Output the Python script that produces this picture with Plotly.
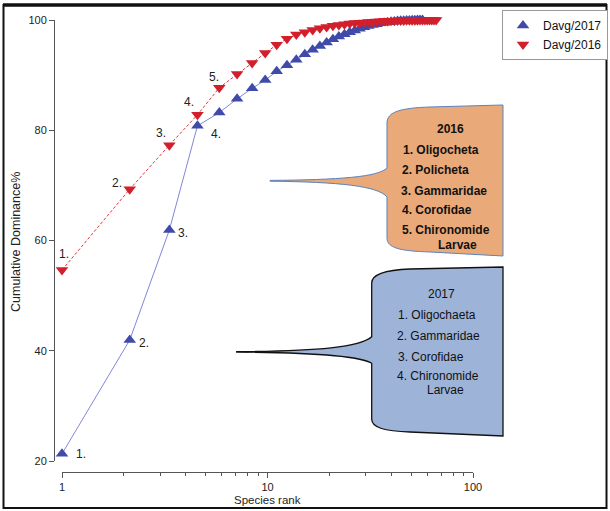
import math
import plotly.graph_objects as go

# ---------------- data ----------------
dom_2017 = [21.3, 41.95, 61.9, 80.8, 83.2, 85.7, 87.6, 89.1, 90.7, 91.8,
            92.8, 93.8, 94.6, 95.3, 95.9, 96.5, 97.0, 97.4, 97.8, 98.1,
            98.4, 98.7, 98.9, 99.1, 99.25, 99.4, 99.5, 99.6, 99.7, 99.75,
            99.8, 99.85, 99.88, 99.9, 99.92, 99.94, 99.96, 99.98, 99.99, 100.0]
dom_2016 = [54.65, 69.3, 77.3, 82.8, 87.7, 90.2, 92.2, 94.0, 95.5, 96.6,
            97.35, 97.8, 98.2, 98.5, 98.75, 98.95, 99.1, 99.25, 99.35, 99.45,
            99.5, 99.56, 99.62, 99.67, 99.72, 99.76, 99.8, 99.83, 99.86, 99.88,
            99.9, 99.92, 99.93, 99.94, 99.95, 99.96, 99.97, 99.975, 99.98, 99.985,
            99.99, 99.99, 99.995, 100.0, 100.0, 100.0]
rank_2017 = list(range(1, len(dom_2017) + 1))
rank_2016 = list(range(1, len(dom_2016) + 1))

labels_2017 = ["1.", "2.", "3.", "4."]
labels_2016 = ["1.", "2.", "3.", "4.", "5."]

box_2016 = ["<b>2016</b>", "<b>1. Oligocheta</b>", "<b>2. Policheta</b>", "<b>3. Gammaridae</b>",
            "<b>4. Corofidae</b>", "<b>5. Chironomide</b>", "<b>Larvae</b>"]
box_2017 = ["2017", "1. Oligochaeta", "2. Gammaridae", "3. Corofidae",
            "4. Chironomide", "Larvae"]

x_ticks = [1, 10, 100]
x_minor = [2, 3, 4, 5, 6, 7, 8, 9, 20, 30, 40, 50, 60, 70, 80, 90]
y_ticks = [20, 40, 60, 80, 100]

# ---------------- geometry helpers ----------------
W, H = 610, 511
ML, MR, MT, MB = 54, 10, 20, 39
PW, PH = W - ML - MR, H - MT - MB


def fx(px):
    return (px - ML) / PW


def fy(py):
    return (H - MB - py) / PH


def path(cmds):
    out = []
    for c, pts in cmds:
        if c == "Z":
            out.append("Z")
            continue
        out.append(c + " " + " ".join(f"{fx(x):.5f},{fy(y):.5f}" for x, y in pts))
    return " ".join(out)


FONT = "Arial, Liberation Sans, sans-serif"
BLUE_M = "#3f4aa9"
BLUE_L = "#8286d9"
RED_M = "#d21f2b"
RED_L = "#e0353d"

fig = go.Figure()

# lines (no legend)
fig.add_trace(go.Scatter(x=rank_2017, y=dom_2017, mode="lines",
                         line=dict(color=BLUE_L, width=1), showlegend=False,
                         hoverinfo="skip", cliponaxis=False))
fig.add_trace(go.Scatter(x=rank_2016, y=dom_2016, mode="lines",
                         line=dict(color=RED_L, width=1, dash="3px,2px"), showlegend=False,
                         hoverinfo="skip", cliponaxis=False))
# markers
fig.add_trace(go.Scatter(x=rank_2017, y=dom_2017, mode="markers", name="Davg/2017",
                         marker=dict(symbol="triangle-up", size=11, color=BLUE_M),
                         cliponaxis=False))
fig.add_trace(go.Scatter(x=rank_2016, y=dom_2016, mode="markers", name="Davg/2016",
                         marker=dict(symbol="triangle-down", size=11, color=RED_M),
                         cliponaxis=False))
# empty trace so the tick axis (x2) gets its own subplot and is drawn
fig.add_trace(go.Scatter(x=[], y=[], xaxis="x2", yaxis="y", showlegend=False,
                         hoverinfo="skip"))

annotations = []
# point labels
shift_2017 = [(19, 0), (14, -3), (14, -3), (19, -8)]
shift_2016 = [(2, 16), (-13, 6), (-8, 12), (-8, 13), (-5, 11)]
for i, t in enumerate(labels_2017):
    dx, dy = shift_2017[i]
    annotations.append(dict(x=math.log10(rank_2017[i]), y=dom_2017[i], xref="x", yref="y",
                            text=t, showarrow=False, xshift=dx, yshift=dy,
                            xanchor="center", yanchor="middle",
                            font=dict(size=12, color="#222", family=FONT)))
for i, t in enumerate(labels_2016):
    dx, dy = shift_2016[i]
    annotations.append(dict(x=math.log10(rank_2016[i]), y=dom_2016[i], xref="x", yref="y",
                            text=t, showarrow=False, xshift=dx, yshift=dy,
                            xanchor="center", yanchor="middle",
                            font=dict(size=12, color="#222", family=FONT)))

# callout texts
pos_2016 = [(450, 129), (440.5, 150), (435, 170), (443.7, 190.7), (436.7, 210), (446.3, 229.5), (457.5, 245)]
for (px, py), t in zip(pos_2016, box_2016):
    annotations.append(dict(x=fx(px), y=fy(py), xref="paper", yref="paper", text=t,
                            xanchor="center", yanchor="middle",
                            showarrow=False, font=dict(size=12, color="#111", family=FONT)))
pos_2017 = [(441.7, 293.5), (436.7, 315), (438, 336), (430.5, 356.5), (437.7, 375.5), (445, 390)]
for (px, py), t in zip(pos_2017, box_2017):
    annotations.append(dict(x=fx(px), y=fy(py), xref="paper", yref="paper", text=t,
                            xanchor="center", yanchor="middle",
                            showarrow=False, font=dict(size=12, color="#111", family=FONT)))

# axis titles
annotations.append(dict(x=fx(267.5), y=fy(500), xref="paper", yref="paper", text="Species rank",
                        xanchor="center", yanchor="middle",
                        showarrow=False, font=dict(size=11.5, color="#222", family=FONT)))
annotations.append(dict(x=fx(16), y=fy(242), xref="paper", yref="paper",
                        text="Cumulative Dominance%", textangle=-90,
                        xanchor="center", yanchor="middle",
                        showarrow=False, font=dict(size=12.5, color="#222", family=FONT)))

shapes = [
    # 2016 callout
    dict(type="path", xref="paper", yref="paper", layer="below",
         path=path([("M", [(270, 180.4)]),
                    ("C", [(340, 179.8), (378, 177), (387, 168)]),
                    ("L", [(387, 123)]),
                    ("C", [(387, 112), (400, 108), (430, 107)]),
                    ("L", [(503, 105)]),
                    ("L", [(503, 256)]),
                    ("L", [(430, 252)]),
                    ("C", [(400, 251), (387, 248), (387, 238)]),
                    ("L", [(387, 197)]),
                    ("C", [(378, 186), (340, 182), (270, 181.2)]),
                    ("Z", [])]),
         fillcolor="#e9a978", line=dict(color="#5a84bd", width=1)),
    # 2017 callout
    dict(type="path", xref="paper", yref="paper", layer="below",
         path=path([("M", [(236.7, 351.6)]),
                    ("C", [(320, 351), (360, 347), (371.7, 336.7)]),
                    ("L", [(371.7, 283)]),
                    ("C", [(371.7, 274), (385, 270), (410, 269)]),
                    ("L", [(503, 267)]),
                    ("L", [(503, 436)]),
                    ("L", [(410, 432)]),
                    ("C", [(385, 431), (371.7, 428), (371.7, 419)]),
                    ("L", [(371.7, 363.3)]),
                    ("C", [(360, 356), (320, 352.6), (236.7, 352.1)]),
                    ("Z", [])]),
         fillcolor="#9db3d8", line=dict(color="#111", width=1.3)),
    # outer frame
    dict(type="rect", xref="paper", yref="paper", x0=fx(3.5), x1=fx(606.5), y0=fy(508), y1=fy(5),
         line=dict(color="#111", width=2), fillcolor="rgba(0,0,0,0)"),
    dict(type="line", xref="paper", yref="paper", x0=fx(3), x1=fx(607), y0=fy(5), y1=fy(5),
         line=dict(color="#111", width=3.5)),
]

x_dom = [fx(62), fx(473)]

fig.update_layout(
    width=W, height=H,
    margin=dict(l=ML, r=MR, t=MT, b=MB, pad=0, autoexpand=False),
    paper_bgcolor="white", plot_bgcolor="white",
    font=dict(family=FONT, size=11, color="#222"),
    showlegend=True,
    legend=dict(x=fx(608), y=fy(10), xanchor="right", yanchor="top",
                bgcolor="white", bordercolor="#999", borderwidth=1,
                font=dict(size=12, color="#111", family=FONT),
                itemwidth=30, tracegroupgap=0),
    xaxis=dict(type="log", domain=x_dom, range=[0, (473 - 62) / 225.0],
               visible=False, anchor="y"),
    xaxis2=dict(type="log", domain=x_dom, range=[0, 2], overlaying="x",
                anchor="free", position=0, side="bottom",
                showline=True, linecolor="#555", linewidth=1,
                ticks="outside", ticklen=5, tickcolor="#555", tickwidth=1,
                tickmode="array", tickvals=x_ticks, ticktext=[str(v) for v in x_ticks],
                minor=dict(tickmode="array", tickvals=x_minor, ticks="outside",
                           ticklen=3, tickcolor="#555", showgrid=False),
                tickfont=dict(size=11, color="#222", family=FONT),
                showgrid=False, zeroline=False),
    yaxis=dict(domain=[fy(461), fy(20)], range=[20, 100], anchor="free", position=0,
               showline=True, linecolor="#555", linewidth=1,
               ticks="outside", ticklen=5, tickcolor="#555",
               tickmode="array", tickvals=y_ticks,
               tickfont=dict(size=11, color="#222", family=FONT),
               showgrid=False, zeroline=False),
    annotations=annotations,
    shapes=shapes,
)

fig.write_html("out.html", config={"displayModeBar": False},
               post_script="document.body.style.margin='0px';document.body.style.overflow='hidden';")
